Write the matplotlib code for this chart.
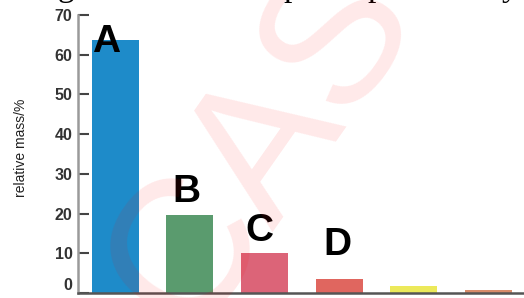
import matplotlib
matplotlib.use('Agg')
import matplotlib.pyplot as plt

# relative abundance of each peak (%)
masses = [63.7, 19.6, 10.1, 3.5, 1.8, 0.8]
bar_colors = ['#1e8bc9', '#5a9b6e', '#dc6478', '#e0665f', '#ece95a', '#d98c6a']
peak_names = ['A', 'B', 'C', 'D']
yticks = [0, 10, 20, 30, 40, 50, 60, 70]

# where the letters sit (x offset from bar, baseline height)
name_pos = [(-0.31, 60.7), (-0.24, 22.9), (-0.26, 13.1), (-0.21, 9.6)]

fig = plt.figure(figsize=(5.24, 2.98), dpi=100)
ax = fig.add_axes([0.1489, 0.0168, 0.8511, 0.933])

xs = list(range(len(masses)))
ax.bar(xs, masses, width=0.63, color=bar_colors, zorder=2)

for i, name in enumerate(peak_names):
    dx, hy = name_pos[i]
    ax.text(xs[i] + dx, hy, name, fontsize=28, fontweight='bold',
            family='Liberation Sans', ha='left', va='baseline', color='black')

ax.set_xlim(-0.5, 5.48)
ax.set_ylim(0, 70)
ax.set_yticks(yticks)
ax.set_yticklabels([str(t) for t in yticks], fontsize=11.5, fontweight='bold',
                   color='#333333', family='Liberation Sans')
ax.get_yticklabels()[0].set_va('bottom')  # the 0 sits a bit higher
ax.set_xticks([])
ax.tick_params(axis='y', direction='in', length=8, width=1.5, color='#444444', pad=4)

for s in ['top', 'right']:
    ax.spines[s].set_visible(False)
ax.spines['left'].set_color('#9a9a9a')
ax.spines['left'].set_linewidth(1.8)
ax.spines['bottom'].set_color('#555555')
ax.spines['bottom'].set_linewidth(1.8)

fig.text(21 / 524, 1 - 148 / 298, 'relative mass/%', rotation=90, fontsize=10,
         family=['Liberation Sans Narrow', 'Liberation Sans'], color='#222222',
         ha='center', va='center')

# line of page text above the chart, only descenders show
for ch, px in [('g', 58), ('p', 283), ('p', 367), ('y', 502)]:
    fig.text(px / 524, 1 + 4 / 298, ch, fontsize=24, family='Liberation Serif',
             ha='left', va='baseline', color='black')

# watermark
fig.text(0.5, 0.51, 'CAS', rotation=55, fontsize=140, family='Liberation Sans',
         color='red', alpha=0.09, ha='center', va='center', zorder=10)

fig.savefig('out.png', dpi=100)
